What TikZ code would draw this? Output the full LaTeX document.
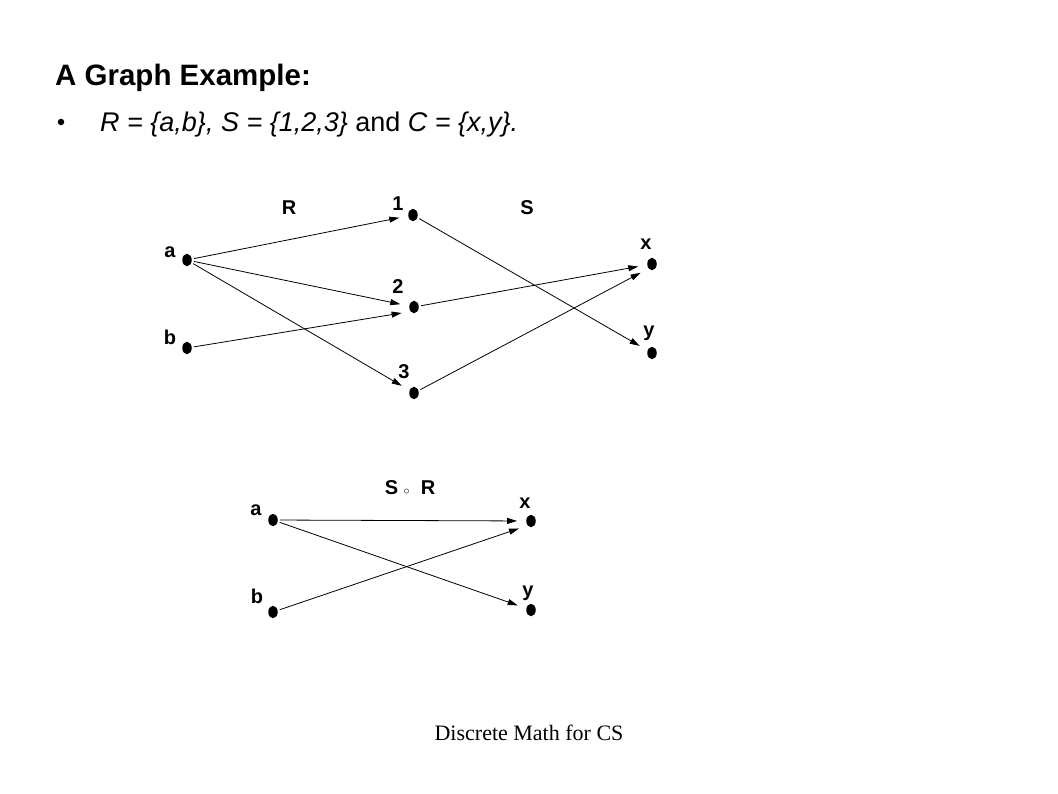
\documentclass[tikz,border=0pt]{standalone}
\usepackage{fontspec}
\setmainfont{Liberation Sans}
\newfontfamily\footfont{Liberation Serif}
\usetikzlibrary{arrows.meta,shapes.geometric}
\tikzset{
  dot/.style={ellipse,fill=black,inner sep=0pt,minimum width=9.5pt,minimum height=12.5pt},
  lab/.style={inner sep=0pt,font=\fontsize{20}{23}\selectfont\bfseries},
  arr/.style={-{Triangle[length=10pt,width=6pt]},line width=0.8pt,shorten >=9pt,shorten <=2pt},
}
\begin{document}
\begin{tikzpicture}[x=1pt,y=-1pt]
\useasboundingbox (0,0) rectangle (1058,793);
% title
\node[anchor=base west,inner sep=0pt,font=\fontsize{29.5}{34}\selectfont\bfseries] (title) at (55,85) {A Graph Example:};
\node[circle,fill=black,inner sep=0pt,minimum size=6.5pt] (bul) at (61,122) {};
\node[anchor=base west,inner sep=0pt,font=\fontsize{27}{32}\selectfont] (line) at (100,131) {\itshape R = \{a,b\}, S = \{1,2,3\}\upshape{} and \itshape C = \{x,y\}.};
% top graph
\node[dot] (a) at (187,260) {};
\node[dot] (b) at (187,348) {};
\node[dot] (n1) at (413,215) {};
\node[dot] (n2) at (414,307) {};
\node[dot] (n3) at (414,393) {};
\node[dot] (x) at (652,264) {};
\node[dot] (y) at (652,353) {};
\node[lab] (la) at (170,252) {a};
\node[lab] (lb) at (170,337) {b};
\node[lab] (l1) at (398,204) {1};
\node[lab] (l2) at (398,287) {2};
\node[lab] (l3) at (404,372) {3};
\node[lab] (lx) at (646,244) {x};
\node[lab] (ly) at (649,333) {y};
\node[lab] (lR) at (289,208) {R};
\node[lab] (lS) at (527,208) {S};
\draw[arr] (a) -- (n1);
\draw[arr] (a) -- (n2);
\draw[arr] (a) -- (n3);
\draw[arr] (b) -- (n2.south west);
\draw[arr] (n1) -- (y);
\draw[arr] (n2) -- (x);
\draw[arr] (n3) -- (x.south west);
% bottom graph
\node[dot] (ba) at (273,520) {};
\node[dot] (bb) at (273,612) {};
\node[dot] (bx) at (531,521) {};
\node[dot] (by) at (531,610) {};
\node[lab] (lba) at (256,510) {a};
\node[lab] (lbb) at (257,596) {b};
\node[lab] (lbx) at (525,503) {x};
\node[lab] (lby) at (528,593) {y};
\node[lab] (lSR) at (410,488) {S {\fontsize{12}{14}\selectfont\normalfont$\circ$}\ \ R};
\draw[arr] (ba) -- (bx);
\draw[arr] (ba) -- (by);
\draw[arr] (bb) -- (bx.south west);
% footer
\node[inner sep=0pt,font=\footfont\fontsize{22}{25}\selectfont] (foot) at (529,733) {Discrete Math for CS};
\end{tikzpicture}
\end{document}
